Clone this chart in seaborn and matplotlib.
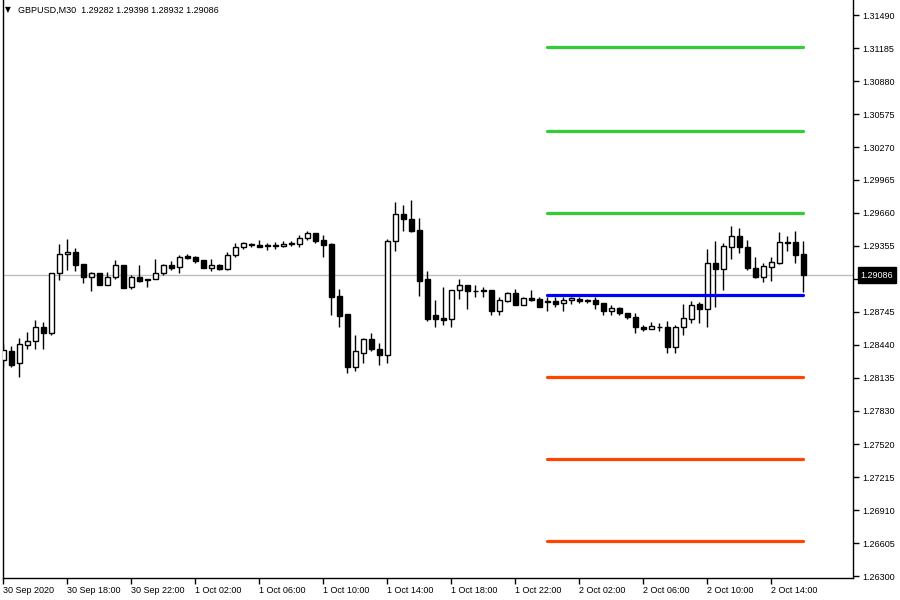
import matplotlib
matplotlib.use("Agg")
import matplotlib.pyplot as plt
import matplotlib.transforms as mtransforms
import seaborn as sns
import numpy as np
import pandas as pd

sns.set_theme(style="white")
plt.rcParams['font.family'] = ['Liberation Sans', 'DejaVu Sans']

symbol_title = "GBPUSD,M30  1.29282 1.29398 1.28932 1.29086"
last_price = 1.29086
last_label = "1.29086"

opens = [
    1.28300, 1.28386, 1.28269, 1.28441, 1.28473, 1.28602, 1.28552, 1.29102, 1.29277, 1.29299,
    1.29185, 1.29065, 1.29102, 1.28996, 1.29065, 1.29176, 1.28972, 1.29065, 1.29049, 1.29046,
    1.29102, 1.29176, 1.29157, 1.29262, 1.29250, 1.29225, 1.29151, 1.29176, 1.29144, 1.29268,
    1.29342, 1.29373, 1.29366, 1.29361, 1.29357, 1.29354, 1.29376, 1.29373, 1.29428, 1.29472,
    1.29410, 1.29373, 1.28892, 1.28725, 1.28232, 1.28367, 1.28491, 1.28399, 1.28343, 1.29398,
    1.29650, 1.29601, 1.29502, 1.29046, 1.28713, 1.28688, 1.28682, 1.28947, 1.28991, 1.28941,
    1.28947, 1.28947, 1.28750, 1.28848, 1.28917, 1.28811, 1.28873, 1.28861, 1.28843, 1.28843,
    1.28824, 1.28855, 1.28867, 1.28855, 1.28855, 1.28824, 1.28750, 1.28781, 1.28732, 1.28695,
    1.28608, 1.28584, 1.28608, 1.28602, 1.28423, 1.28602, 1.28682, 1.28818, 1.28769, 1.29194,
    1.29144, 1.29348, 1.29447, 1.29342, 1.29151, 1.29070, 1.29157, 1.29194, 1.29391, 1.29391,
    1.29282]
highs = [
    1.28448, 1.28429, 1.28503, 1.28559, 1.28670, 1.28651, 1.29105, 1.29373, 1.29416, 1.29336,
    1.29188, 1.29117, 1.29107, 1.29114, 1.29225, 1.29179, 1.29083, 1.29176, 1.29052, 1.29231,
    1.29185, 1.29213, 1.29268, 1.29280, 1.29262, 1.29225, 1.29231, 1.29188, 1.29299, 1.29385,
    1.29391, 1.29385, 1.29410, 1.29385, 1.29391, 1.29398, 1.29398, 1.29459, 1.29490, 1.29477,
    1.29459, 1.29379, 1.28959, 1.28725, 1.28528, 1.28503, 1.28547, 1.28460, 1.29422, 1.29761,
    1.29736, 1.29780, 1.29613, 1.29120, 1.28855, 1.28972, 1.28947, 1.29046, 1.28991, 1.28991,
    1.28978, 1.28947, 1.28880, 1.28929, 1.28959, 1.28880, 1.28947, 1.28880, 1.28885, 1.28880,
    1.28885, 1.28885, 1.28885, 1.28867, 1.28885, 1.28824, 1.28806, 1.28793, 1.28732, 1.28732,
    1.28621, 1.28651, 1.28639, 1.28663, 1.28621, 1.28818, 1.28848, 1.28836, 1.29324, 1.29398,
    1.29385, 1.29539, 1.29521, 1.29410, 1.29250, 1.29200, 1.29255, 1.29484, 1.29447, 1.29496,
    1.29398]
lows = [
    1.28235, 1.28238, 1.28145, 1.28404, 1.28404, 1.28404, 1.28534, 1.29040, 1.29132, 1.29120,
    1.29015, 1.28941, 1.28991, 1.28991, 1.29046, 1.28966, 1.28959, 1.29021, 1.28978, 1.29046,
    1.29089, 1.29132, 1.29107, 1.29231, 1.29194, 1.29151, 1.29126, 1.29132, 1.29132, 1.29250,
    1.29329, 1.29342, 1.29342, 1.29317, 1.29324, 1.29348, 1.29354, 1.29342, 1.29410, 1.29385,
    1.29250, 1.28719, 1.28608, 1.28182, 1.28201, 1.28275, 1.28380, 1.28256, 1.28269, 1.29311,
    1.29490, 1.29484, 1.28892, 1.28663, 1.28602, 1.28626, 1.28602, 1.28861, 1.28769, 1.28885,
    1.28885, 1.28713, 1.28713, 1.28836, 1.28806, 1.28811, 1.28848, 1.28793, 1.28756, 1.28793,
    1.28756, 1.28818, 1.28830, 1.28830, 1.28769, 1.28713, 1.28713, 1.28719, 1.28676, 1.28552,
    1.28571, 1.28584, 1.28565, 1.28362, 1.28362, 1.28528, 1.28639, 1.28645, 1.28602, 1.28793,
    1.28947, 1.29231, 1.29292, 1.29132, 1.29058, 1.29021, 1.29033, 1.29188, 1.29305, 1.29200,
    1.28932]
closes = [
    1.28392, 1.28256, 1.28448, 1.28473, 1.28602, 1.28547, 1.29102, 1.29277, 1.29299, 1.29181,
    1.29065, 1.29102, 1.28996, 1.29065, 1.29176, 1.28969, 1.29070, 1.29033, 1.29037, 1.29102,
    1.29176, 1.29151, 1.29255, 1.29243, 1.29218, 1.29151, 1.29176, 1.29144, 1.29268, 1.29342,
    1.29379, 1.29361, 1.29348, 1.29354, 1.29361, 1.29373, 1.29379, 1.29428, 1.29472, 1.29403,
    1.29366, 1.28885, 1.28707, 1.28232, 1.28380, 1.28491, 1.28399, 1.28343, 1.29398, 1.29650,
    1.29601, 1.29496, 1.29033, 1.28682, 1.28682, 1.28670, 1.28947, 1.28991, 1.28935, 1.28935,
    1.28935, 1.28750, 1.28855, 1.28917, 1.28811, 1.28873, 1.28855, 1.28793, 1.28836, 1.28818,
    1.28855, 1.28873, 1.28848, 1.28843, 1.28818, 1.28750, 1.28781, 1.28732, 1.28695, 1.28602,
    1.28584, 1.28614, 1.28602, 1.28423, 1.28602, 1.28688, 1.28806, 1.28769, 1.29194, 1.29144,
    1.29354, 1.29447, 1.29342, 1.29151, 1.29070, 1.29169, 1.29206, 1.29391, 1.29385, 1.29274,
    1.29086]

x_tick_idx = [0, 8, 16, 24, 32, 40, 48, 56, 64, 72, 80, 88, 96]
x_tick_labels = ["30 Sep 2020", "30 Sep 18:00", "30 Sep 22:00", "1 Oct 02:00",
                 "1 Oct 06:00", "1 Oct 10:00", "1 Oct 14:00", "1 Oct 18:00",
                 "1 Oct 22:00", "2 Oct 02:00", "2 Oct 06:00", "2 Oct 10:00",
                 "2 Oct 14:00"]
y_ticks = [1.31490, 1.31185, 1.30880, 1.30575, 1.30270, 1.29965, 1.29660, 1.29355,
           1.29050, 1.28745, 1.28440, 1.28135, 1.27830, 1.27520, 1.27215, 1.26910,
           1.26605, 1.26300]
y_tick_labels = ["1.31490", "1.31185", "1.30880", "1.30575", "1.30270", "1.29965",
                 "1.29660", "1.29355", "1.29050", "1.28745", "1.28440", "1.28135",
                 "1.27830", "1.27520", "1.27215", "1.26910", "1.26605", "1.26300"]

level_names = ["R3", "R2", "R1", "P", "S1", "S2", "S3"]
level_values = [1.31194, 1.30417, 1.29658, 1.28900, 1.28141, 1.27383, 1.26624]
level_colors = ["#32CD32", "#32CD32", "#32CD32", "#0000FF", "#FF4500", "#FF4500", "#FF4500"]
level_start = 68
level_end = 100

# ---- figure ----
fig = plt.figure(figsize=(9, 6), dpi=100)
fig.patch.set_facecolor("white")
ax = fig.add_axes([3 / 900, 22 / 600, 850 / 900, 578 / 600])
ax.set_facecolor("white")

df = pd.DataFrame({"o": opens, "h": highs, "l": lows, "c": closes})
df["i"] = np.arange(len(df))
up = df[df["c"] >= df["o"]]
dn = df[df["c"] < df["o"]]

# last price line
ax.axhline(last_price, color="#C0C0C0", lw=1, zorder=1)

# wicks
ax.vlines(df["i"], df["l"], df["h"], color="black", lw=1, zorder=2)
# bodies
ax.bar(up["i"], up["c"] - up["o"], bottom=up["o"], width=0.6, color="white",
       edgecolor="black", linewidth=1, zorder=3)
ax.bar(dn["i"], dn["o"] - dn["c"], bottom=dn["c"], width=0.6, color="black",
       edgecolor="black", linewidth=1, zorder=3)

# pivot levels
lv = pd.DataFrame({
    "level": [n for n in level_names for _ in range(2)],
    "x": [level_start, level_end] * len(level_names),
    "y": [v for v in level_values for _ in range(2)],
})
sns.lineplot(data=lv, x="x", y="y", hue="level", palette=dict(zip(level_names, level_colors)),
             estimator=None, sort=False, lw=2.3, legend=False, ax=ax, zorder=4)

ax.set_xlim(-0.05, 106.2)
ax.set_ylim(1.26283, 1.31630)

ax.set_xlabel("")
ax.set_ylabel("")
ax.set_xticks(x_tick_idx)
ax.set_xticklabels(x_tick_labels, ha="left", fontsize=6.5, color="black")
ax.yaxis.tick_right()
ax.set_yticks(y_ticks)
ax.set_yticklabels(y_tick_labels, fontsize=6.5, color="black")
ax.tick_params(axis="x", direction="out", length=4, width=1, pad=2, colors="black", bottom=True)
ax.tick_params(axis="y", direction="out", length=4, width=1, pad=2.5, colors="black", right=True, left=False)

for side in ["left", "bottom", "right"]:
    ax.spines[side].set_visible(True)
    ax.spines[side].set_color("black")
    ax.spines[side].set_linewidth(1)
ax.spines["top"].set_visible(False)
ax.grid(False)

# last price label box
trans = mtransforms.blended_transform_factory(ax.transAxes, ax.transData)
ax.text(1.0 + 7.7 / 850, last_price, last_label, transform=trans, color="white",
        fontsize=6.5, va="center", ha="left", zorder=10, clip_on=False,
        bbox=dict(boxstyle="square,pad=0.35", fc="black", ec="black"))

# header
fig.text(5 / 900, 1 - 10 / 600, "\u25BC", fontsize=5.5, va="center", ha="left",
         color="black", family=["DejaVu Sans"])
fig.text(18 / 900, 1 - 10 / 600, symbol_title, fontsize=6.5, va="center", ha="left",
         color="black")

fig.savefig("out.png", dpi=100)
